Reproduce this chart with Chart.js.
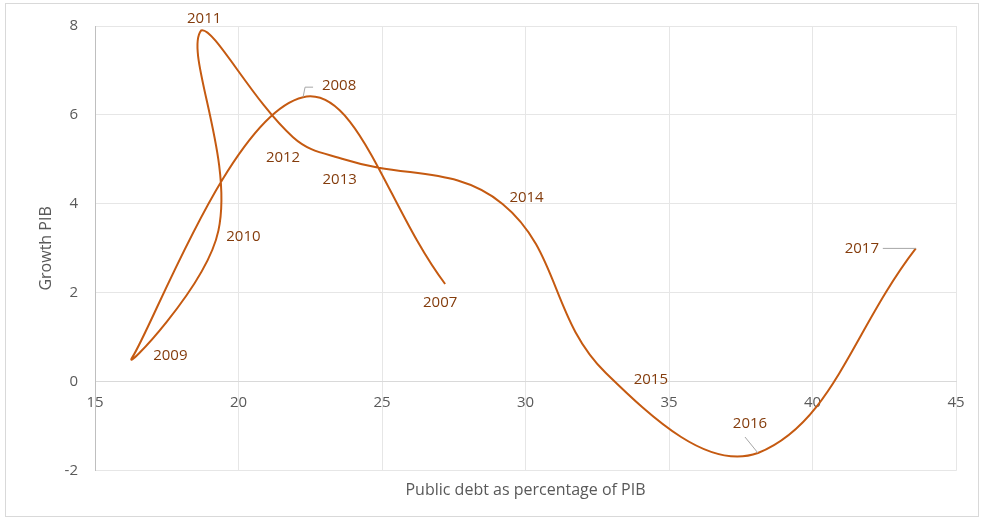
<!DOCTYPE html>
<html>
<head>
<meta charset="utf-8">
<script src="https://cdn.jsdelivr.net/npm/chart.js@4"></script>
<style>
  html, body { margin: 0; padding: 0; background: #fff; }
</style>
</head>
<body>
<canvas id="debtChart" width="984" height="521"></canvas>
<script>
// Public debt (% of PIB) vs growth of PIB, by year
const years = ['2007', '2008', '2009', '2010', '2011', '2012', '2013', '2014', '2015', '2016', '2017'];
const publicDebt = [27.2, 22.25, 16.3, 19.3, 18.7, 21.9, 23.7, 29.2, 32.8, 38.1, 43.6];
const growthPib = [2.2, 6.4, 0.55, 3.4, 7.9, 5.5, 5.0, 4.0, 0.2, -1.6, 3.0];
const xTicks = [15, 20, 25, 30, 35, 40, 45];
const yTicks = [-2, 0, 2, 4, 6, 8];

// where each year label sits next to its point (pixels), plus optional leader line
const labelOffsets = [[-5, 19], [36, -11], [38, -2], [25, 6], [3, -12], [-10, 21], [-5, 20], [24, -6], [45, 7], [-8, -29], [-54, 0]];
const leaders = { 1: [[2, -10], [10, -10]], 9: [[-13, -16]], 10: [[-33, 0]] };

const lineColor = '#C55A11';
const labelColor = '#843C0C';
const axisText = '#595959';
const fontName = "'Open Sans', sans-serif";

let points = [];
for (let i = 0; i < years.length; i++) {
    points.push({ x: publicDebt[i], y: growthPib[i] });
}

// draws the year labels beside the points
const yearLabels = {
    id: 'yearLabels',
    afterDatasetsDraw(chart) {
        const ctx = chart.ctx;
        const meta = chart.getDatasetMeta(0);
        ctx.save();
        meta.data.forEach(function (pt, i) {
            const lead = leaders[i];
            if (lead) {
                ctx.strokeStyle = '#A6A6A6';
                ctx.lineWidth = 1;
                ctx.beginPath();
                ctx.moveTo(pt.x, pt.y);
                lead.forEach(function (p) { ctx.lineTo(pt.x + p[0], pt.y + p[1]); });
                ctx.stroke();
            }
            ctx.fillStyle = labelColor;
            ctx.font = '15px ' + fontName;
            ctx.textAlign = 'center';
            ctx.textBaseline = 'middle';
            ctx.fillText(years[i], pt.x + labelOffsets[i][0], pt.y + labelOffsets[i][1]);
        });
        ctx.restore();
    }
};

// light frame round the whole chart
const outerFrame = {
    id: 'outerFrame',
    beforeDraw(chart) {
        const ctx = chart.ctx;
        ctx.save();
        ctx.fillStyle = '#fff';
        ctx.fillRect(0, 0, chart.width, chart.height);
        ctx.strokeStyle = '#D9D9D9';
        ctx.lineWidth = 1;
        ctx.strokeRect(5.5, 3.5, 973, 513);
        ctx.restore();
    }
};

new Chart(document.getElementById('debtChart'), {
    type: 'scatter',
    data: {
        datasets: [{
            data: points,
            showLine: true,
            tension: 0.4,
            borderColor: lineColor,
            borderWidth: 2,
            pointRadius: 0,
            fill: false
        }]
    },
    options: {
        responsive: false,
        animation: false,
        layout: { padding: { left: 0, top: 26, right: 28, bottom: 0 } },
        plugins: {
            legend: { display: false },
            tooltip: { enabled: false },
            title: {
                display: true,
                position: 'bottom',
                fullSize: false,
                text: 'Public debt as percentage of PIB',
                color: axisText,
                font: { family: fontName, size: 16, weight: 'normal' },
                padding: { top: 10, bottom: 21 }
            }
        },
        scales: {
            x: {
                type: 'linear',
                position: { y: 0 },
                min: 15,
                max: 45,
                afterFit: function (s) { s.height = 0; },
                afterBuildTicks: function (s) { s.ticks = xTicks.map(v => ({ value: v })); },
                ticks: { color: axisText, font: { family: fontName, size: 15 }, padding: 12 },
                grid: { color: '#E6E6E6', drawTicks: false },
                border: { color: '#D9D9D9' }
            },
            y: {
                type: 'linear',
                min: -2,
                max: 8,
                afterFit: function (s) { s.width = 95; },
                afterBuildTicks: function (s) { s.ticks = yTicks.map(v => ({ value: v })); },
                ticks: { color: axisText, font: { family: fontName, size: 15 }, padding: 17 },
                grid: { color: '#E6E6E6', drawTicks: false },
                border: { color: '#BFBFBF' },
                title: {
                    display: true,
                    text: 'Growth PIB',
                    color: axisText,
                    font: { family: fontName, size: 16 },
                    padding: { top: 37, bottom: 0 }
                }
            }
        }
    },
    plugins: [outerFrame, yearLabels]
});
</script>
</body>
</html>
